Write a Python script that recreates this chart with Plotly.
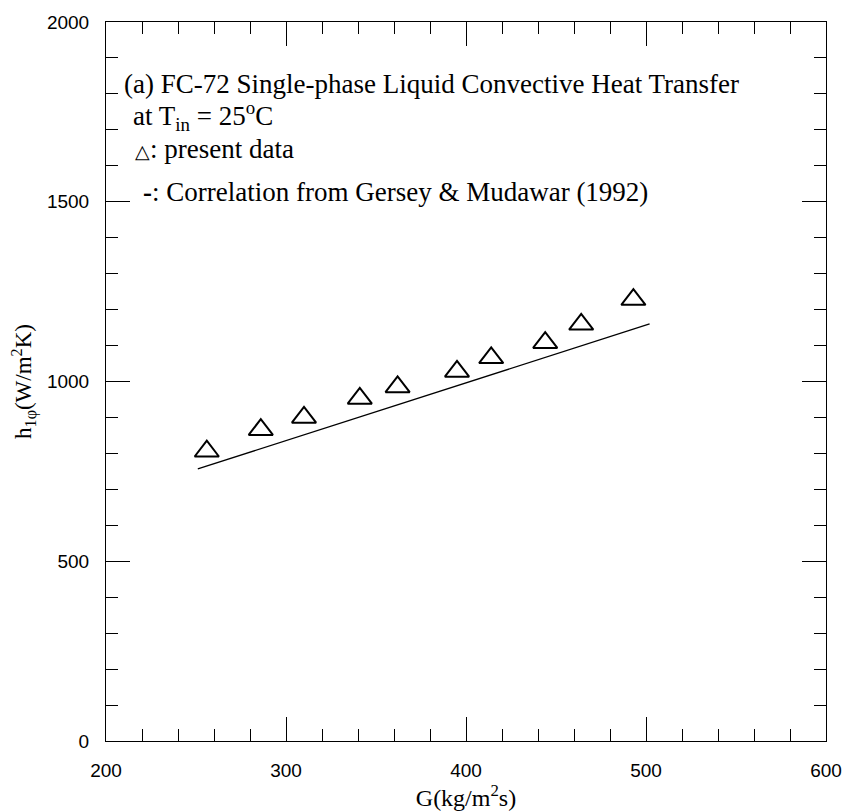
import plotly.graph_objects as go

# Data
G_data = [256, 286, 310, 341, 362, 395, 414, 444, 464, 493]
h_data = [806, 866, 900, 953, 985, 1028, 1066, 1108, 1159, 1228]

G_corr = [251, 502]
h_corr = [757, 1160]

x_ticks = [200, 300, 400, 500, 600]
y_ticks = [0, 500, 1000, 1500, 2000]

W, H = 854, 812
ML, MR, MT, MB = 106, 20, 16, 69
PW = W - ML - MR
PH = H - MT - MB

serif = "Liberation Serif, Times New Roman, serif"
sans = "Liberation Sans, Arial, sans-serif"

fig = go.Figure()
fig.add_trace(go.Scatter(x=G_corr, y=h_corr, mode="lines",
                         line=dict(color="black", width=1.3),
                         showlegend=False, hoverinfo="skip"))
fig.add_trace(go.Scatter(x=G_data, y=h_data, mode="markers",
                         marker=dict(symbol="triangle-up-open", size=21,
                                     color="black", line=dict(width=2, color="black")),
                         showlegend=False))

def px2paper(px, py):
    return (px - ML) / PW, (H - MB - py) / PH

notes = [
    (122, 79, "(a) FC-72 Single-phase Liquid Convective Heat Transfer"),
    (131, 111, "at T<sub>in</sub> = 25<sup>o</sup>C"),
    (133, 144, "<span style=\"font-size:19px\">△</span>: present data"),
    (141, 188, "<b>-</b>: Correlation from Gersey &amp; Mudawar (1992)"),
]
for px, py, t in notes:
    xp, yp = px2paper(px, py)
    fig.add_annotation(x=xp, y=yp, xref="paper", yref="paper", text=t,
                       showarrow=False, xanchor="left", yanchor="middle",
                       font=dict(family=serif, size=27, color="black"))

axis_common = dict(showline=True, linecolor="black", linewidth=1, mirror="ticks",
                   ticks="inside", ticklen=24, tickwidth=1, tickcolor="black",
                   showgrid=False, zeroline=False,
                   tickfont=dict(family=sans, size=19, color="black"))

fig.update_xaxes(range=[200, 600], tickvals=x_ticks,
                 minor=dict(ticks="inside", ticklen=12, dtick=20, tick0=200,
                            tickcolor="black", tickwidth=1, showgrid=False),
                 title=dict(text="G(kg/m<sup>2</sup>s)",
                            font=dict(family=serif, size=24, color="black"),
                            standoff=2),
                 ticklabelstandoff=12,
                 **axis_common)
fig.update_yaxes(range=[0, 2000], tickvals=y_ticks,
                 minor=dict(ticks="inside", ticklen=12, dtick=100, tick0=0,
                            tickcolor="black", tickwidth=1, showgrid=False),
                 title=dict(text="h<sub>1φ</sub>(W/m<sup>2</sup>K)",
                            font=dict(family=serif, size=23, color="black"),
                            standoff=8),
                 ticklabelstandoff=12,
                 **axis_common)

fig.update_layout(width=W, height=H, margin=dict(l=ML, r=MR, t=MT, b=MB, pad=0),
                  plot_bgcolor="white", paper_bgcolor="white")

fig.write_html("out.html")
